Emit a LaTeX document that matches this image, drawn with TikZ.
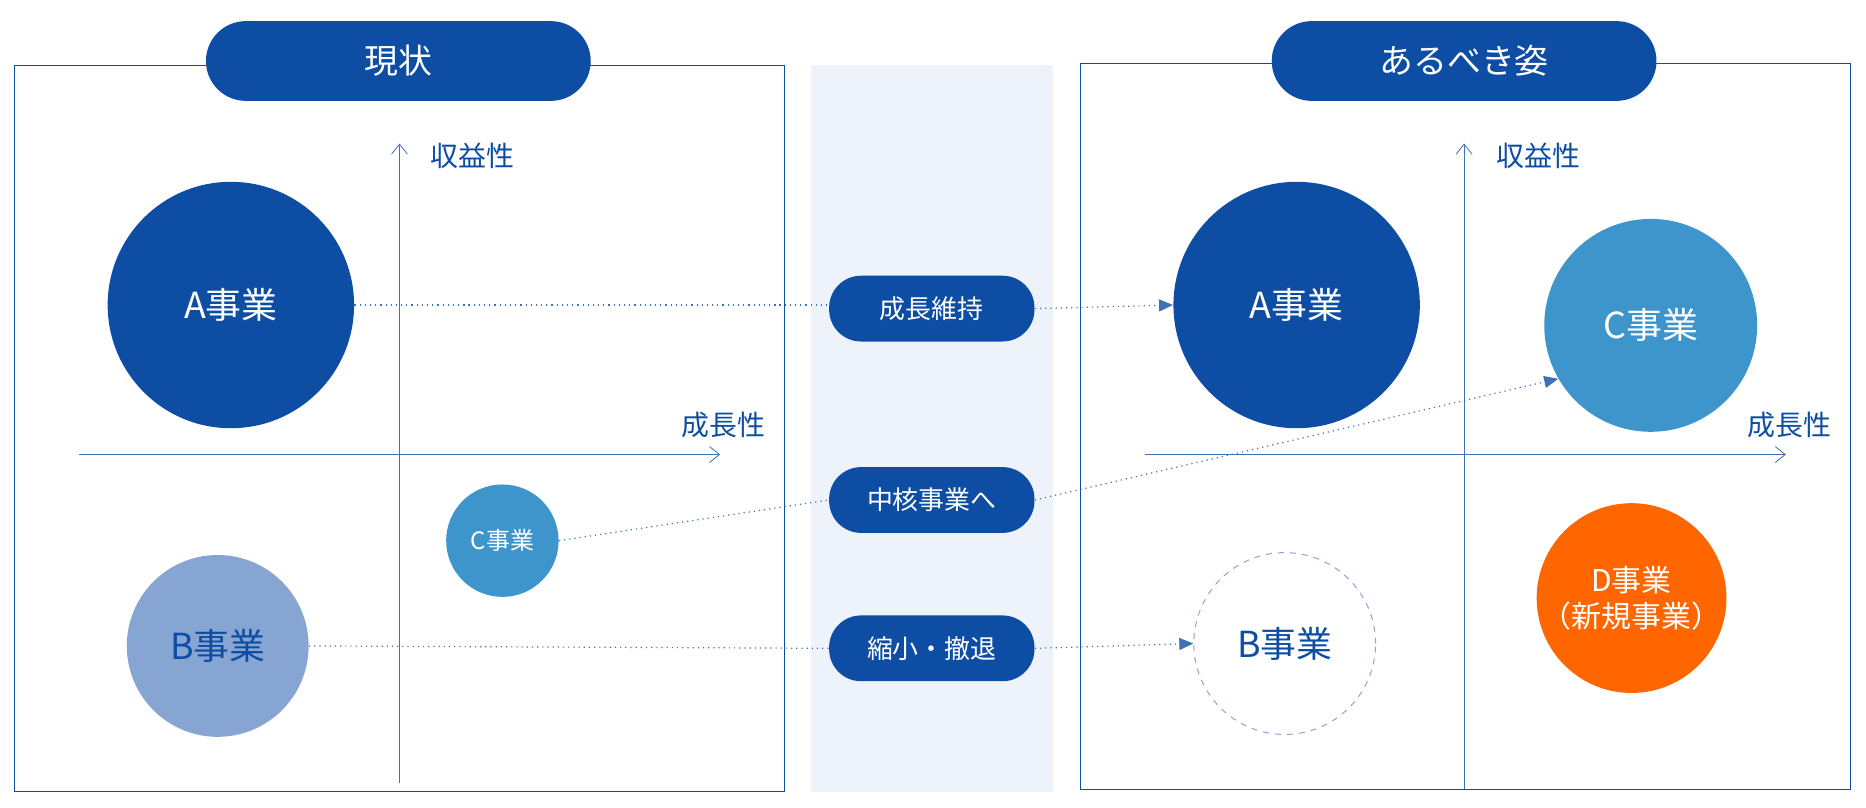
\documentclass[tikz,border=0pt]{standalone}
\usepackage{fontspec}
\setmainfont{Noto Sans CJK JP}
\usetikzlibrary{arrows.meta}
\definecolor{dblue}{HTML}{0E4DA4}
\definecolor{mblue}{HTML}{3E95CC}
\definecolor{lblue}{HTML}{87A5D2}
\definecolor{band}{HTML}{EEF3FB}
\definecolor{orng}{HTML}{FF6600}
\begin{document}
\begin{tikzpicture}[x=0.6pt,y=-0.6pt,
  frame/.style={draw=dblue,line width=0.6pt},
  title/.style={fill=dblue,rounded corners=20pt,minimum width=193pt,minimum height=40pt,text=white,font=\fontsize{17}{20}\selectfont},
  pill/.style={fill=dblue,rounded corners=16pt,minimum width=103pt,minimum height=33pt,text=white,font=\fontsize{13}{15}\selectfont},
  circ/.style={circle,inner sep=0pt,font=\fontsize{18}{21}\selectfont},
  axis/.style={draw=dblue!80,line width=0.4pt,-{Straight Barb[length=5pt,width=8pt]}},
  axlab/.style={text=dblue,font=\fontsize{14}{16}\selectfont},
  conn/.style={draw=dblue!80,line width=0.6pt,dotted},
  arr/.style={conn,-{Triangle[length=7pt,width=6pt]}}]
\useasboundingbox (0,0) rectangle (1560,675);
\fill[band] (678,54) rectangle (880,662);
\draw[frame] (12,55) rectangle (656,662);
\draw[frame] (903,53) rectangle (1547,660);
\node[title] (t1) at (333,51) {現状};
\node[title] (t2) at (1224,51) {あるべき姿};
% left axes
\coordinate (lv0) at (334,655); \coordinate (lv1) at (334,120);
\coordinate (lh0) at (66,380); \coordinate (lh1) at (602,380);
\draw[axis] (lv0) -- (lv1);
\draw[axis] (lh0) -- (lh1);
\node[axlab] (ly) at (395,130) {収益性};
\node[axlab] (lx) at (605,355) {成長性};
% right axes
\coordinate (rv0) at (1224,660); \coordinate (rv1) at (1224,120);
\coordinate (rh0) at (957,380); \coordinate (rh1) at (1493,380);
\draw[axis] (rv0) -- (rv1);
\draw[axis] (rh0) -- (rh1);
\node[axlab] (ry) at (1286,130) {収益性};
\node[axlab] (rx) at (1496,355) {成長性};
% circles
\node[circ,fill=dblue,text=white,minimum size=123.6pt] (al) at (193,255) {A事業};
\node[circ,fill=mblue,text=white,minimum size=56.4pt,font=\fontsize{12}{14}\selectfont] (cl) at (420,452) {C事業};
\node[circ,fill=lblue,text=dblue,minimum size=91.2pt] (bl) at (182,540) {B事業};
\node[circ,fill=dblue,text=white,minimum size=123.6pt] (ar) at (1084,255) {A事業};
\node[circ,fill=mblue,text=white,minimum size=106.8pt] (cr) at (1380,272) {C事業};
\node[circ,draw=lblue,dashed,line width=0.5pt,text=dblue,minimum size=91.2pt] (br) at (1074,538) {B事業};
\node[circ,fill=orng,text=white,minimum size=90pt,align=center,font=\fontsize{15}{18}\selectfont] (dr) at (1364,500) {D事業\\（新規事業）};
% pills
\node[pill] (p1) at (779,258) {成長維持};
\node[pill] (p2) at (779,418) {中核事業へ};
\node[pill] (p3) at (779,542) {縮小・撤退};
% connectors
\draw[conn] (al.east) -- (p1.west|-al.east);
\draw[arr] (p1.east) -- (ar.west);
\draw[conn] (cl.east) -- (p2.west);
\draw[arr] (p2.east) -- (cr.-150);
\draw[conn] (bl.east) -- (p3.west);
\draw[arr] (p3.east) -- (br.west);
\end{tikzpicture}
\end{document}
